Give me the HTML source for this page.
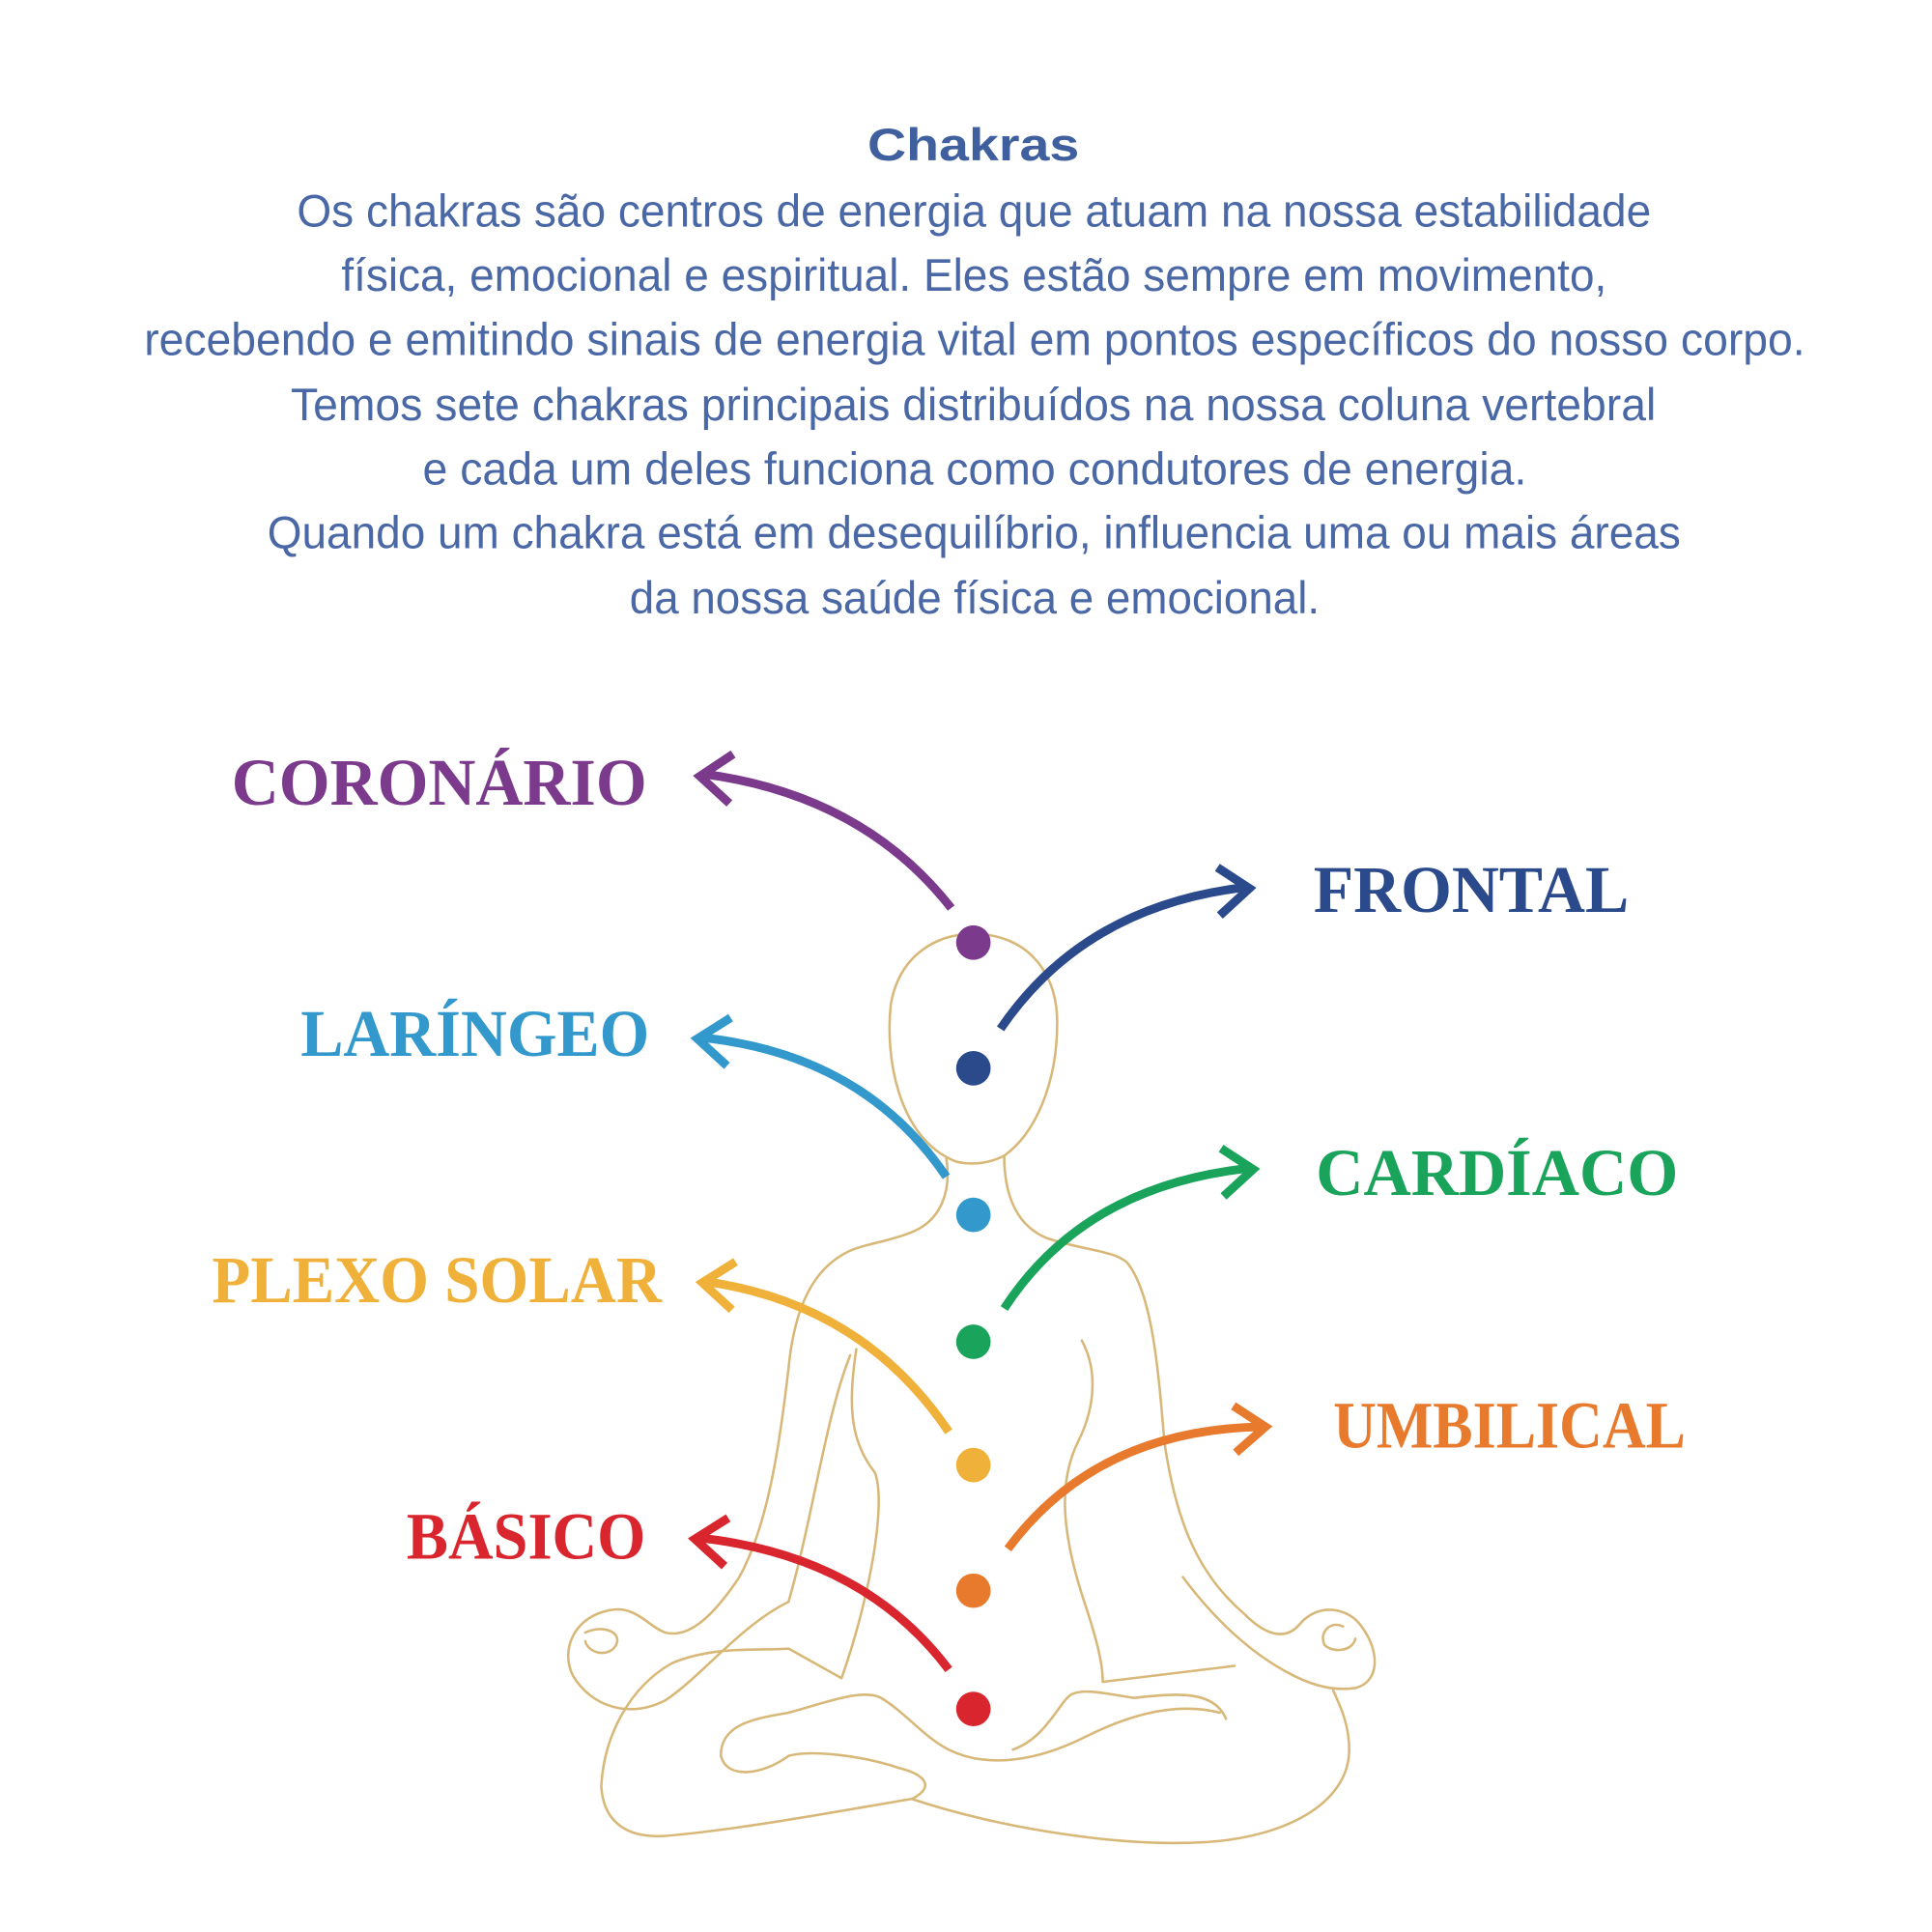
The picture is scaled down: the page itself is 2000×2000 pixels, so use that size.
<!DOCTYPE html>
<html><head><meta charset="utf-8"><style>
html,body{margin:0;padding:0;background:#fff;width:2000px;height:2000px;overflow:hidden}
svg{display:block}
.t{font-family:"Liberation Sans Narrow","Liberation Sans",sans-serif;fill:#4a68a6;font-size:37px}
.l{font-family:"Liberation Serif",serif;font-weight:bold;font-size:54px}
</style></head><body>
<svg width="2000" height="2000" viewBox="0 0 1568 1568" xmlns="http://www.w3.org/2000/svg">
<text class="t" x="790" y="130" text-anchor="middle" font-weight="bold" font-size="50" textLength="172" lengthAdjust="spacingAndGlyphs" style="fill:#3f5f9e">Chakras</text>
<text class="t" x="241" y="184" textLength="1099" lengthAdjust="spacingAndGlyphs">Os chakras são centros de energia que atuam na nossa estabilidade</text>
<text class="t" x="277" y="236" textLength="1027" lengthAdjust="spacingAndGlyphs">física, emocional e espiritual. Eles estão sempre em movimento,</text>
<text class="t" x="117" y="288" textLength="1348" lengthAdjust="spacingAndGlyphs">recebendo e emitindo sinais de energia vital em pontos específicos do nosso corpo.</text>
<text class="t" x="236" y="341" textLength="1108" lengthAdjust="spacingAndGlyphs">Temos sete chakras principais distribuídos na nossa coluna vertebral</text>
<text class="t" x="343" y="393" textLength="896" lengthAdjust="spacingAndGlyphs">e cada um deles funciona como condutores de energia.</text>
<text class="t" x="217" y="445" textLength="1147" lengthAdjust="spacingAndGlyphs">Quando um chakra está em desequilíbrio, influencia uma ou mais áreas</text>
<text class="t" x="511" y="498" textLength="560" lengthAdjust="spacingAndGlyphs">da nossa saúde física e emocional.</text>

<g fill="none" stroke="#d8b878" stroke-width="2" stroke-linecap="round" stroke-linejoin="round">
<path d="M770,940 C730,920 718,860 723,815 C730,775 760,758 790,758 C830,758 858,785 858,830 C858,880 840,920 815,938 C800,946 780,946 770,940 Z"/>
<path d="M768,940 C772,965 765,990 740,1000 C720,1008 700,1010 688,1016 C660,1030 645,1060 640,1110 C632,1180 622,1240 600,1280 C580,1310 560,1330 540,1325 C525,1320 515,1300 490,1308 C465,1315 455,1340 465,1360 C480,1385 510,1395 540,1380 C570,1360 600,1320 640,1300"/>
<path d="M475,1325 C490,1318 505,1325 500,1335 C495,1345 478,1343 475,1332"/>
<path d="M815,938 C815,970 825,995 850,1005 C880,1015 905,1015 915,1025 C935,1050 940,1110 945,1170 C955,1240 975,1280 1010,1310 C1030,1330 1045,1330 1055,1318 C1070,1300 1095,1305 1105,1320 C1120,1340 1120,1365 1100,1370 C1085,1372 1070,1370 1050,1360 C1020,1345 990,1320 960,1280"/>
<path d="M1090,1320 C1080,1315 1070,1325 1075,1335 C1082,1342 1098,1340 1100,1330"/>
<path d="M695,1095 C688,1140 690,1170 710,1195 C720,1220 705,1300 683,1362 L640,1338 C620,1340 580,1335 545,1350 C510,1370 490,1410 488,1450 C490,1480 510,1492 540,1490 C600,1485 680,1470 740,1460 C760,1450 750,1440 730,1435 C700,1425 660,1420 640,1425 C620,1440 590,1445 585,1425 C585,1400 610,1395 640,1390 C670,1382 700,1370 715,1378 C735,1390 750,1410 770,1420 C800,1435 840,1430 880,1410 C910,1395 950,1380 990,1390"/>
<path d="M740,1460 C800,1480 900,1500 980,1495 C1050,1490 1095,1460 1095,1420 C1095,1400 1088,1385 1082,1372"/>
<path d="M878,1088 C890,1110 890,1140 875,1170 C860,1200 860,1240 880,1300 C890,1330 895,1350 895,1365 L1002,1352"/>
<path d="M822,1420 C850,1410 860,1380 870,1375 C880,1370 900,1375 920,1378 C950,1375 985,1370 995,1395"/>
<path d="M690,1100 C670,1150 660,1230 640,1300"/>
</g>

<g fill="none" stroke-width="7" stroke-linecap="butt" stroke-linejoin="miter">
<path d="M772,737 Q700,645 570,628" stroke="#7b3a8c"/>
<path d="M595,612 L568,630 L592,652" stroke="#7b3a8c"/>
<path d="M812,835 Q880,735 1012,720" stroke="#2a4a8c"/>
<path d="M988,704 L1014,721 L990,743" stroke="#2a4a8c"/>
<path d="M768,955 Q700,855 568,842" stroke="#3399cc"/>
<path d="M593,826 L566,843 L590,865" stroke="#3399cc"/>
<path d="M815,1062 Q880,962 1015,948" stroke="#1aa35a"/>
<path d="M991,932 L1017,949 L993,971" stroke="#1aa35a"/>
<path d="M770,1162 Q700,1058 572,1040" stroke="#f0b13a"/>
<path d="M597,1024 L570,1041 L594,1063" stroke="#f0b13a"/>
<path d="M818,1257 Q890,1160 1025,1158" stroke="#e87a2e"/>
<path d="M1001,1141 L1027,1158 L1003,1179" stroke="#e87a2e"/>
<path d="M770,1355 Q700,1262 566,1248" stroke="#d9262e"/>
<path d="M591,1232 L564,1249 L588,1271" stroke="#d9262e"/>
</g>

<circle cx="790" cy="765" r="14" fill="#7b3a8c"/>
<circle cx="790" cy="867" r="14" fill="#2a4a8c"/>
<circle cx="790" cy="986" r="14" fill="#3399cc"/>
<circle cx="790" cy="1089" r="14" fill="#1aa35a"/>
<circle cx="790" cy="1189" r="14" fill="#f0b13a"/>
<circle cx="790" cy="1291" r="14" fill="#e87a2e"/>
<circle cx="790" cy="1387" r="14" fill="#d9262e"/>

<text class="l" x="188" y="653" fill="#7b3a8c" textLength="337" lengthAdjust="spacingAndGlyphs">CORONÁRIO</text>
<text class="l" x="1066" y="740" fill="#2a4a8c" textLength="256" lengthAdjust="spacingAndGlyphs">FRONTAL</text>
<text class="l" x="244" y="857" fill="#3399cc" textLength="283" lengthAdjust="spacingAndGlyphs">LARÍNGEO</text>
<text class="l" x="1068" y="970" fill="#1aa35a" textLength="294" lengthAdjust="spacingAndGlyphs">CARDÍACO</text>
<text class="l" x="172" y="1057" fill="#f0b13a" textLength="365" lengthAdjust="spacingAndGlyphs">PLEXO SOLAR</text>
<text class="l" x="1082" y="1175" fill="#e87a2e" textLength="286" lengthAdjust="spacingAndGlyphs">UMBILICAL</text>
<text class="l" x="330" y="1265" fill="#d9262e" textLength="194" lengthAdjust="spacingAndGlyphs">BÁSICO</text>
</svg>
</body></html>
